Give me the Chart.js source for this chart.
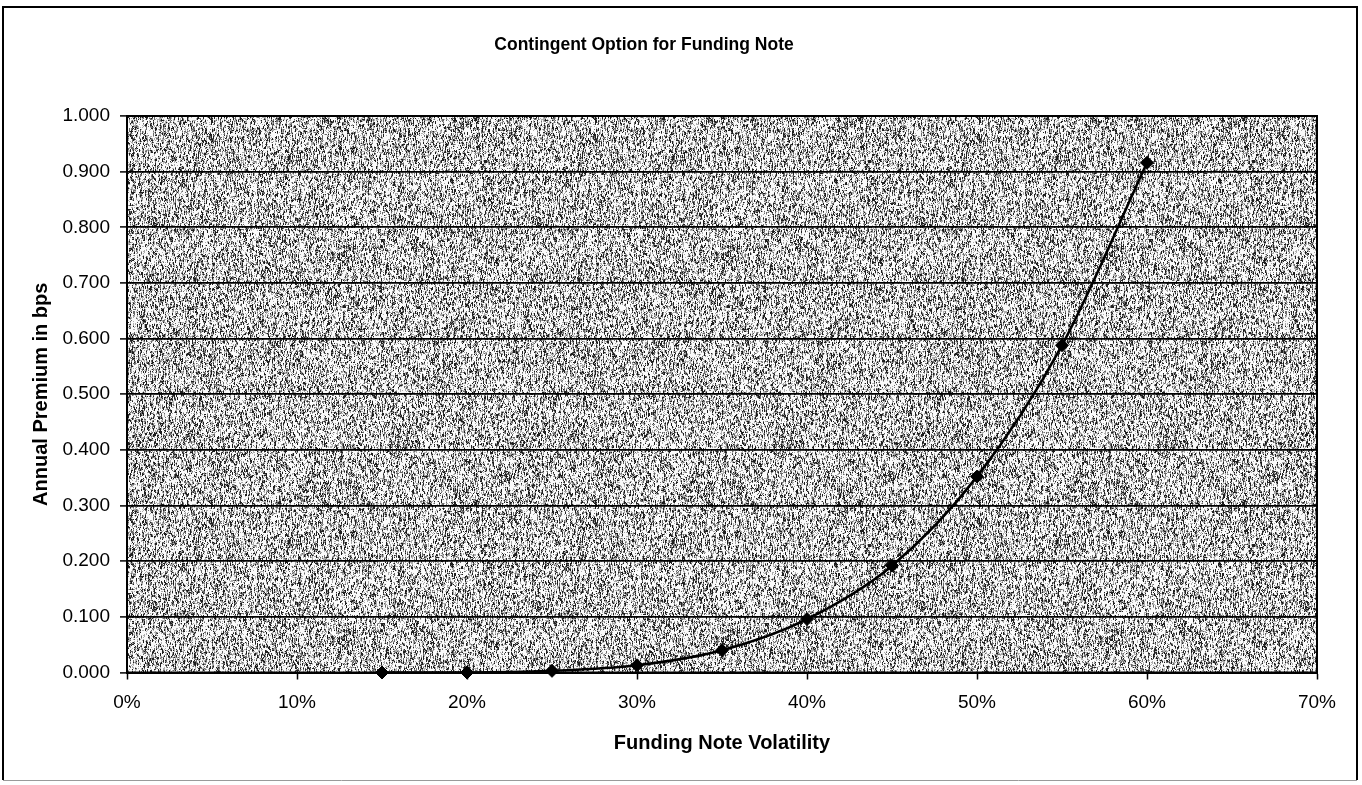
<!DOCTYPE html>
<html>
<head>
<meta charset="utf-8">
<title>Contingent Option for Funding Note</title>
<script src="https://cdn.jsdelivr.net/npm/chart.js@4.4.1/dist/chart.umd.min.js"></script>
<style>
  html, body { margin: 0; padding: 0; background: #ffffff; }
  #wrap { width: 1362px; height: 785px; position: relative; }
  canvas { display: block; }
</style>
</head>
<body>
<div id="wrap"><canvas id="chart" width="1362" height="785"></canvas></div>
<script>
// Funding note volatility (%) and the annual premium of the contingent option (bps)
const volatility = [15, 20, 25, 30, 35, 40, 45, 50, 55, 60];
const premium = [0.000, 0.000, 0.003, 0.013, 0.040, 0.096, 0.192, 0.352, 0.588, 0.916];

// Axis tick values
const xTicks = [0, 10, 20, 30, 40, 50, 60, 70];
const yTicks = [0.0, 0.1, 0.2, 0.3, 0.4, 0.5, 0.6, 0.7, 0.8, 0.9, 1.0];

const chartTitle = 'Contingent Option for Funding Note';
const FONT = "'Liberation Sans', Arial, Helvetica, sans-serif";

// Deterministic hash used for the stippled plot-area texture
function speckle(x, y) {
  let h = (Math.imul(x, 374761393) + Math.imul(y, 668265263)) | 0;
  h = Math.imul(h ^ (h >>> 13), 1274126177);
  h ^= h >>> 16;
  return (h >>> 0) / 4294967296;
}

function makeStipple() {
  const size = 384;
  const c = document.createElement('canvas');
  c.width = size; c.height = size;
  const g = c.getContext('2d');
  const img = g.createImageData(size, size);
  for (let y = 0; y < size; y++) {
    for (let x = 0; x < size; x++) {
      const off = Math.floor(speckle(x, 90001) * 3);
      const v = 0.6 * speckle(x, Math.floor((y + off) / 3) + 7) + 0.4 * speckle(x + 5003, y);
      let t;
      if (v < 0.28) t = 30;
      else if (v < 0.38) t = 105;
      else if (v < 0.50) t = 175;
      else t = 250;
      const i = (y * size + x) * 4;
      img.data[i] = t; img.data[i + 1] = t; img.data[i + 2] = t; img.data[i + 3] = 255;
    }
  }
  g.putImageData(img, 0, 0);
  return c;
}

const stippleCanvas = makeStipple();

// Outer frame, chart heading, stippled plot area and its border
const framePlugin = {
  id: 'frame',
  beforeDraw(chart) {
    const ctx = chart.ctx;
    const a = chart.chartArea;
    ctx.save();
    ctx.fillStyle = '#ffffff';
    ctx.fillRect(0, 0, chart.width, chart.height);
    // outer chart border
    ctx.strokeStyle = '#000000';
    ctx.lineWidth = 2;
    ctx.beginPath();
    ctx.moveTo(3, 780); ctx.lineTo(3, 7); ctx.lineTo(1357, 7); ctx.lineTo(1357, 780);
    ctx.stroke();
    ctx.strokeStyle = '#9a9a9a';
    ctx.lineWidth = 1;
    ctx.beginPath();
    ctx.moveTo(3, 780.5); ctx.lineTo(1357, 780.5);
    ctx.stroke();
    // heading
    ctx.fillStyle = '#000000';
    ctx.font = 'bold 17.5px ' + FONT;
    ctx.textAlign = 'center';
    ctx.textBaseline = 'middle';
    ctx.fillText(chartTitle, 644, 45);
    // plot area fill
    ctx.fillStyle = ctx.createPattern(stippleCanvas, 'repeat');
    ctx.fillRect(a.left, a.top, a.right - a.left, a.bottom - a.top);
    ctx.restore();
  },
  beforeDatasetsDraw(chart) {
    const ctx = chart.ctx;
    const a = chart.chartArea;
    ctx.save();
    ctx.strokeStyle = '#000000';
    ctx.lineWidth = 2;
    ctx.strokeRect(a.left, a.top, a.right - a.left, a.bottom - a.top);
    ctx.restore();
  }
};

new Chart(document.getElementById('chart'), {
  type: 'scatter',
  data: {
    datasets: [{
      label: 'Annual Premium',
      data: volatility.map((v, i) => ({ x: v, y: premium[i] })),
      showLine: true,
      borderColor: '#000000',
      borderWidth: 2.6,
      cubicInterpolationMode: 'monotone',
      pointStyle: 'rectRot',
      pointRadius: 6.5,
      pointBackgroundColor: '#000000',
      pointBorderColor: '#000000',
      pointBorderWidth: 1,
      clip: false
    }]
  },
  options: {
    responsive: false,
    animation: false,
    devicePixelRatio: 1,
    layout: { padding: { top: 116, left: 0, right: 0, bottom: 0 } },
    plugins: {
      legend: { display: false },
      tooltip: { enabled: false },
      title: { display: false }
    },
    scales: {
      x: {
        type: 'linear',
        min: xTicks[0],
        max: xTicks[xTicks.length - 1],
        afterBuildTicks(scale) { scale.ticks = xTicks.map(v => ({ value: v })); },
        afterFit(scale) { scale.height = 112.5; scale.paddingRight = 45; },
        ticks: {
          color: '#000000',
          font: { family: FONT, size: 19 },
          padding: 12,
          maxRotation: 0,
          callback: v => v + '%'
        },
        grid: {
          drawOnChartArea: false,
          drawTicks: true,
          tickLength: 7,
          tickColor: '#000000',
          tickWidth: 1.5
        },
        border: { display: true, color: '#000000', width: 2 },
        title: {
          display: true,
          text: 'Funding Note Volatility',
          color: '#000000',
          font: { family: FONT, size: 20, weight: 'bold', lineHeight: 1.2 },
          padding: { top: 0, bottom: 30 }
        }
      },
      y: {
        type: 'linear',
        min: yTicks[0],
        max: yTicks[yTicks.length - 1],
        afterBuildTicks(scale) { scale.ticks = yTicks.map(v => ({ value: v })); },
        afterFit(scale) { scale.width = 127; },
        ticks: {
          color: '#000000',
          font: { family: FONT, size: 19 },
          padding: 10,
          callback: v => Number(v).toFixed(3)
        },
        grid: {
          color: '#000000',
          lineWidth: 1.8,
          drawTicks: true,
          tickLength: 7,
          tickColor: '#000000',
          tickWidth: 1.5
        },
        border: { display: true, color: '#000000', width: 2 },
        title: {
          display: true,
          text: 'Annual Premium in bps',
          color: '#000000',
          font: { family: FONT, size: 20, weight: 'bold', lineHeight: 1.2 },
          padding: { top: 29, bottom: 0 }
        }
      }
    }
  },
  plugins: [framePlugin]
});
</script>
</body>
</html>
